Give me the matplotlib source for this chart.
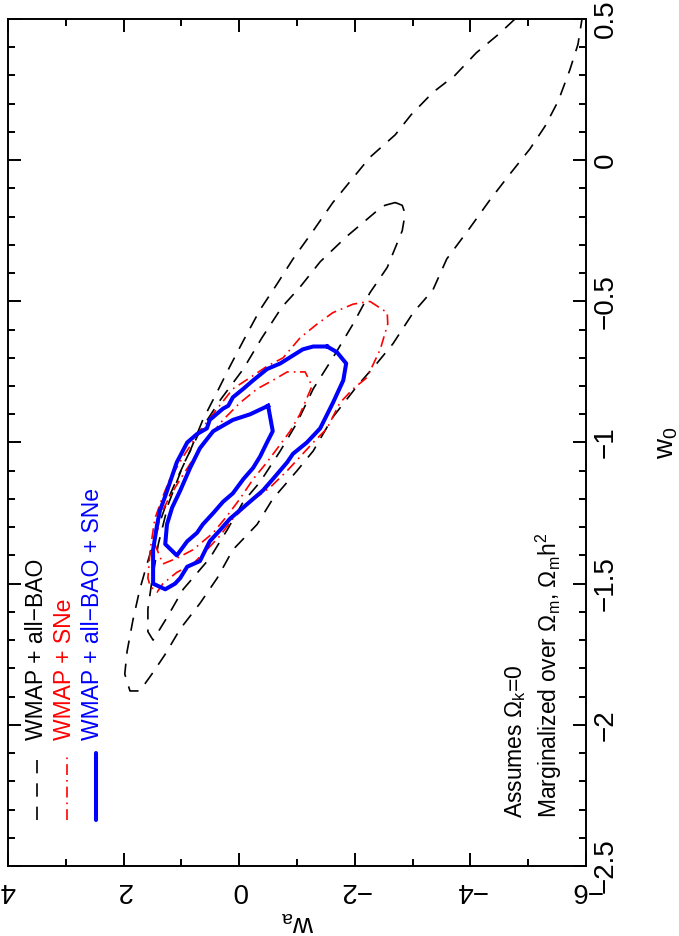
import matplotlib.pyplot as plt
from matplotlib.ticker import MultipleLocator

plt.rcParams['font.family'] = ['Liberation Sans', 'DejaVu Sans']
plt.rcParams['mathtext.fontset'] = 'custom'
plt.rcParams['mathtext.rm'] = 'Liberation Sans'
plt.rcParams['mathtext.it'] = 'Liberation Sans'
plt.rcParams['mathtext.default'] = 'rm'

# ---------------------- DATA (w_a, w0) ----------------------

# WMAP + all-BAO, outer contour (open band, leaves through the top)
wa_bao_95 = [-4.77, -4.51, -4.10, -3.73, -3.35, -2.97, -2.70, -2.26, -1.62, -1.28,
             -0.93, -0.65, -0.36, -0.07, 0.16, 0.38, 0.63, 0.85, 1.08, 1.25,
             1.42, 1.58, 1.72, 1.84, 1.94, 1.98, 1.89, 1.72, 1.51, 1.28,
             1.02, 0.68, 0.38, 0.11, -0.31, -0.58, -1.00, -1.28, -1.62, -2.04,
             -2.38, -2.66, -3.01, -3.35, -3.59, -3.99, -4.34, -4.68, -5.03, -5.29,
             -5.52, -5.72, -5.86, -5.93]
w0_bao_95 = [0.50, 0.45, 0.38, 0.30, 0.24, 0.16, 0.09, 0.01, -0.15, -0.25,
             -0.35, -0.44, -0.53, -0.64, -0.73, -0.82, -0.92, -1.03, -1.13, -1.21,
             -1.31, -1.42, -1.52, -1.63, -1.74, -1.82, -1.88, -1.88, -1.82, -1.75,
             -1.66, -1.57, -1.48, -1.38, -1.29, -1.20, -1.10, -1.03, -0.91, -0.80,
             -0.72, -0.65, -0.54, -0.46, -0.35, -0.24, -0.14, -0.05, 0.04, 0.12,
             0.21, 0.32, 0.41, 0.50]

# WMAP + all-BAO, inner contour
wa_bao_68 = [-2.70, -2.82, -2.87, -2.82, -2.56, -2.26, -1.97, -1.62, -1.28, -1.00,
             -0.71, -0.36, -0.07, 0.21, 0.51, 0.97, 1.25, 1.49, 1.58, 1.58,
             1.51, 1.40, 1.23, 0.97, 0.68, 0.33, -0.07, -0.39, -0.74, -1.05,
             -1.40, -1.86, -2.38, -2.52, -2.70]
w0_bao_68 = [-0.15, -0.16, -0.19, -0.25, -0.38, -0.47, -0.58, -0.70, -0.81, -0.93,
             -1.03, -1.14, -1.21, -1.31, -1.41, -1.52, -1.62, -1.70, -1.67, -1.59,
             -1.49, -1.36, -1.22, -1.08, -0.96, -0.85, -0.74, -0.63, -0.52, -0.45,
             -0.36, -0.27, -0.18, -0.16, -0.15]

# WMAP + SNe
wa_sne_95 = [-2.26, -2.56, -2.57, -2.44, -2.21, -1.97, -1.74, -1.52, -1.28, -0.83,
             -0.53, -0.19, 0.11, 0.33, 0.56, 0.80, 1.08, 1.32, 1.42, 1.54,
             1.58, 1.54, 1.46, 1.32, 1.20, 0.97, 0.68, 0.38, 0.11, -0.19,
             -0.48, -0.76, -1.05, -1.35, -1.62, -1.97, -2.26]
w0_sne_95 = [-0.50, -0.54, -0.58, -0.67, -0.77, -0.81, -0.86, -0.95, -1.00, -1.10,
             -1.16, -1.21, -1.27, -1.33, -1.38, -1.43, -1.46, -1.50, -1.53, -1.51,
             -1.48, -1.38, -1.27, -1.19, -1.13, -1.05, -0.96, -0.88, -0.81, -0.77,
             -0.73, -0.70, -0.63, -0.58, -0.54, -0.51, -0.50]

wa_sne_68 = [-1.05, -1.14, -1.26, -1.05, -0.88, -0.48, -0.24, -0.01, 0.21, 0.45,
             0.80, 1.08, 1.32, 1.46, 1.37, 1.20, 1.02, 0.80, 0.56, 0.28,
             -0.01, -0.31, -0.58, -0.83, -1.05]
w0_sne_68 = [-0.75, -0.75, -0.80, -0.90, -0.96, -1.07, -1.13, -1.20, -1.26, -1.32,
             -1.38, -1.41, -1.43, -1.36, -1.26, -1.19, -1.13, -1.06, -0.99, -0.92,
             -0.86, -0.81, -0.78, -0.75, -0.75]

# WMAP + all-BAO + SNe
wa_all_95 = [-1.52, -1.69, -1.85, -1.80, -1.62, -1.40, -1.17, -0.93, -0.83, -0.58,
             -0.41, -0.24, -0.07, 0.16, 0.33, 0.51, 0.68, 0.90, 1.02, 1.11,
             1.28, 1.49, 1.49, 1.42, 1.37, 1.28, 1.08, 0.90, 0.73, 0.56,
             0.51, 0.28, 0.19, 0.11, -0.07, -0.24, -0.48, -0.71, -1.10, -1.28,
             -1.52]
w0_all_95 = [-0.66, -0.68, -0.72, -0.78, -0.86, -0.95, -1.00, -1.04, -1.07, -1.13,
             -1.17, -1.20, -1.23, -1.27, -1.31, -1.35, -1.42, -1.44, -1.48, -1.50,
             -1.52, -1.50, -1.38, -1.29, -1.24, -1.19, -1.07, -1.00, -0.97, -0.95,
             -0.92, -0.88, -0.87, -0.84, -0.81, -0.78, -0.74, -0.72, -0.67, -0.66,
             -0.66]

wa_all_68 = [-0.50, -0.58, -0.48, -0.36, -0.24, -0.07, 0.11, 0.28, 0.45, 0.63,
             0.73, 0.90, 1.08, 1.28, 1.25, 1.16, 1.02, 0.85, 0.68, 0.45,
             0.11, -0.19, -0.50]
w0_all_68 = [-0.87, -0.96, -1.00, -1.05, -1.09, -1.13, -1.18, -1.21, -1.25, -1.29,
             -1.32, -1.35, -1.40, -1.36, -1.29, -1.23, -1.17, -1.09, -1.02, -0.96,
             -0.92, -0.90, -0.87]

wa_ticks = [4, 2, 0, -2, -4, -6]
wa_ticklabels = ['4', '2', '0', '\u22122', '\u22124', '\u22126']
w0_ticks = [-2.5, -2, -1.5, -1, -0.5, 0, 0.5]
w0_ticklabels = ['\u22122.5', '\u22122', '\u22121.5', '\u22121', '\u22120.5', '0', '0.5']

legend_labels = ['WMAP + all\u2212BAO', 'WMAP + SNe', 'WMAP + all\u2212BAO + SNe']
legend_colors = ['black', 'red', 'blue']

# ---------------------- PLOT ----------------------

fig = plt.figure(figsize=(6.79, 9.36), dpi=100)
ax = fig.add_axes([0.0118, 0.0748, 0.8513, 0.9049])

dash = (8, 6)
dashdot = (6.5, 3, 1, 3)

ax.plot(wa_bao_95, w0_bao_95, color='black', lw=1.2, dashes=dash)
ax.plot(wa_bao_68, w0_bao_68, color='black', lw=1.2, dashes=dash)
ax.plot(wa_sne_95, w0_sne_95, color='red', lw=1.2, dashes=dashdot)
ax.plot(wa_sne_68, w0_sne_68, color='red', lw=1.2, dashes=dashdot)
ax.plot(wa_all_95, w0_all_95, color='blue', lw=2.9, solid_joinstyle='round')
ax.plot(wa_all_68, w0_all_68, color='blue', lw=2.9, solid_joinstyle='round')

ax.set_xlim(4, -6)
ax.set_ylim(-2.5, 0.5)
ax.set_xticks(wa_ticks)
ax.set_xticklabels(wa_ticklabels, rotation=180, ha='center', va='top')
ax.set_yticks(w0_ticks)
ax.set_yticklabels(w0_ticklabels, rotation=90, ha='left', va='center')
ax.xaxis.set_minor_locator(MultipleLocator(1))
ax.yaxis.set_minor_locator(MultipleLocator(0.1))
ax.tick_params(which='both', direction='in', top=True, right=True,
               labelleft=False, labelright=True, width=1.4)
ax.tick_params(which='major', length=9.4, labelsize=20)
ax.tick_params(which='minor', length=5)
ax.tick_params(axis='x', pad=8)
ax.tick_params(axis='y', pad=5)
for s in ax.spines.values():
    s.set_linewidth(1.4)

ax.set_xlabel('w$_a$', fontsize=20, rotation=180, va='center', ha='center')
ax.xaxis.set_label_coords(0.5, -0.066)
ax.yaxis.set_label_position('right')
ax.set_ylabel('w$_0$', fontsize=20, rotation=90, va='center', ha='center')
ax.yaxis.set_label_coords(1.14, 0.5)

# legend drawn by hand, rotated like the rest of the figure
text_x = [0.050, 0.098, 0.146]
line_x = [0.050, 0.102, 0.152]
ax.plot([line_x[0]] * 2, [0.054, 0.133], color='black', lw=1.2, dashes=dash,
        transform=ax.transAxes)
ax.plot([line_x[1]] * 2, [0.054, 0.133], color='red', lw=1.2, dashes=dashdot,
        transform=ax.transAxes)
ax.plot([line_x[2]] * 2, [0.054, 0.133], color='blue', lw=2.9,
        solid_capstyle='round', transform=ax.transAxes)
for x, lab, c in zip(text_x, legend_labels, legend_colors):
    ax.text(x, 0.149, lab, color=c, fontsize=16.5, rotation=90,
            ha='center', va='bottom', transform=ax.transAxes)

ax.text(0.878, 0.057, 'Assumes \u03a9$_k$=0', fontsize=16.5, rotation=90,
        ha='center', va='bottom', transform=ax.transAxes)
ax.text(0.936, 0.057, 'Marginalized over \u03a9$_m$, \u03a9$_m$h$^2$', fontsize=16.5,
        rotation=90, ha='center', va='bottom', transform=ax.transAxes)

fig.savefig('out.png', dpi=100)
